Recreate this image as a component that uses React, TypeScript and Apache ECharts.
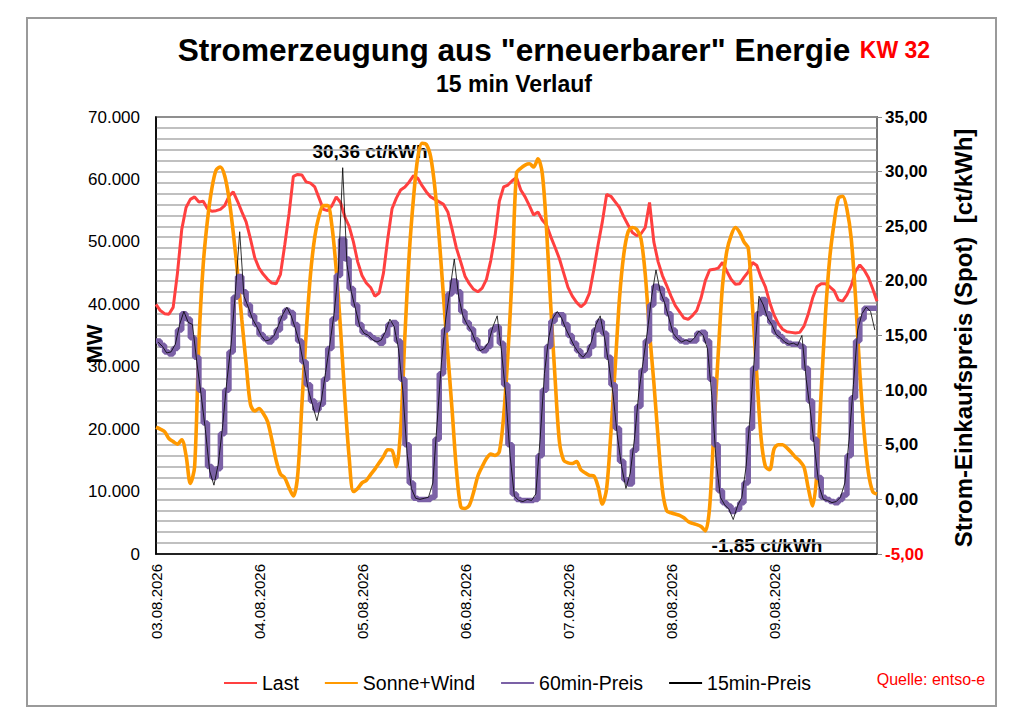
import React, { useEffect, useRef } from "react";
import * as echarts from "echarts";

// one label per day, the x axis runs in hours from 03.08. 00:00
const dayLabels = [
  "03.08.2026", "04.08.2026", "05.08.2026", "06.08.2026",
  "07.08.2026", "08.08.2026", "09.08.2026",
];

// Last in MW, hourly (0..168)
const last = [
  40000, 39000, 38500, 38400, 39500, 45000, 52000, 55500, 56800, 57200, 56400, 56500,
  55300, 54900, 55000, 55200, 55800, 57300, 58000, 56500, 54800, 53200, 50500, 47500,
  45800, 44800, 44000, 43400, 43300, 44800, 49500, 54500, 60500, 60800, 60700, 59600,
  59400, 58800, 57000, 55200, 55000, 55800, 57200, 56300, 54000, 52500, 50000, 46800,
  44600, 43400, 42700, 41300, 41800, 45000, 50500, 55300, 57000, 58300, 58800, 59600,
  60600, 60200, 59000, 58000, 57200, 56800, 56400, 56000, 54800, 52000, 49000, 46800,
  44500, 43300, 42400, 42000, 42600, 44000, 47000, 51000, 56500, 58800, 59100, 59800,
  60300, 58300, 57200, 55800, 54300, 54800, 53500, 52700, 50800, 49100, 47300, 45000,
  42700, 41300, 40300, 39600, 40200, 41800, 45500, 49500, 53200, 57600, 57300, 56400,
  55500, 54000, 52700, 51500, 51000, 51300, 52300, 56300, 50000, 46800, 44600, 43000,
  41300, 39800, 38800, 37800, 37600, 38200, 39000, 41000, 43800, 45500, 45600, 45800,
  46700, 45300, 44000, 43200, 43300, 44300, 45200, 46700, 46200, 44300, 42800, 40300,
  38300, 36900, 36000, 35600, 35500, 35400, 35500, 36500, 38500, 41000, 42800, 43300,
  43300, 42800, 42200, 40700, 40500, 41500, 43000, 45300, 46300, 45500, 44300, 42500,
  40500,
];

// Sonne+Wind in MW, hourly (0..168)
const sonneWind = [
  20300, 20000, 19600, 18500, 18000, 17600, 18300, 15800, 11300, 14000, 34000, 46300,
  53500, 58500, 61500, 62000, 60600, 57000, 51500, 45000, 37500, 30500, 24000, 22900,
  23300, 22500, 21200, 18300, 15000, 12800, 12200, 10600, 9300, 12500, 24000, 35500,
  44800, 50800, 54200, 55800, 55800, 52500, 45500, 36000, 25000, 15500, 10000, 10500,
  11400, 11800, 12700, 13600, 14600, 15600, 16700, 16600, 14000, 20000, 35000, 48000,
  57000, 63500, 65800, 65600, 63600, 58500, 50500, 41100, 32000, 23000, 13500, 7600,
  7300, 7800, 9900, 12500, 14000, 15300, 16000, 15800, 16400, 22000, 32000, 45000,
  61000, 61800, 62300, 62500, 62000, 63300, 61000, 52000, 39500, 28000, 18000, 15000,
  14600, 14500, 14800, 13500, 13000, 12600, 12500, 10800, 8000, 10500, 19500, 30000,
  41000, 48000, 51600, 52300, 52000, 50500, 44800, 35500, 27500, 18500, 10300, 6900,
  6600, 6400, 6200, 5800, 5200, 4900, 4700, 4400, 3700, 7500, 20000, 32000,
  43000, 48500, 51000, 52300, 51500, 50000, 49000, 39500, 28500, 18500, 14000, 13500,
  16800, 17500, 17500, 17000, 16300, 15500, 14900, 13900, 10500, 7700, 13000, 26000,
  38500, 47500, 53000, 57000, 57300, 55200, 50500, 41100, 29000, 19500, 13000, 10000,
  9600,
];

// 60min-Preis in ct/kWh, one value per hour (0..167)
const preis60 = [
  14.5, 14.1, 13.5, 13.3, 13.8, 15.5, 17.0, 16.5, 14.8, 13.0, 10.0, 7.0,
  3.0, 2.0, 2.8, 6.0, 10.0, 13.5, 18.5, 20.4, 19.0, 17.8, 16.8, 16.0,
  15.1, 14.7, 14.4, 14.8, 15.5, 16.6, 17.3, 17.1, 16.0, 14.5, 12.6, 10.5,
  9.0, 8.2, 8.7, 11.0, 13.8, 16.5, 20.5, 23.8, 22.0, 19.3, 17.8, 16.0,
  15.3, 15.1, 14.8, 14.6, 14.3, 15.0, 16.0, 16.2, 14.5, 11.0, 5.0, 1.5,
  0.1, 0.0, 0.0, 0.0, 0.2, 5.5, 11.5, 15.5, 18.8, 20.0, 19.0, 17.2,
  16.2, 15.6, 14.6, 13.8, 13.6, 14.0, 15.5, 15.8, 14.3, 10.5, 5.0, 0.5,
  0.0, -0.1, -0.1, -0.1, 0.0, 4.0, 10.0, 14.0, 16.3, 16.9, 16.9, 16.0,
  15.0, 14.3, 13.6, 13.1, 13.2, 14.0, 15.5, 16.3, 15.2, 13.0, 10.5, 6.5,
  3.5, 1.8, 1.4, 4.5, 8.5, 11.8, 14.5, 17.8, 19.5, 19.3, 18.3, 17.0,
  15.5, 14.8, 14.5, 14.4, 14.5, 14.5, 15.2, 15.3, 14.5, 11.0, 5.0, 0.8,
  -0.3, -0.6, -1.1, -0.9, -0.3, 1.5, 6.5, 12.0, 17.0, 18.3, 17.0, 16.2,
  15.3, 14.9, 14.5, 14.3, 14.2, 14.2, 14.0, 12.0, 9.0, 5.5, 2.0, 0.2,
  0.0, -0.2, -0.3, 0.0, 0.4, 4.0, 9.3, 14.5, 16.5, 17.5, 17.5, 17.5,
];

// 15min-Preis in ct/kWh, read once per hour (middle of the hour)
const preis15 = [
  14.4, 14.0, 13.4, 13.5, 14.2, 16.0, 17.2, 16.2, 16.0, 12.6, 9.6, 6.4,
  2.6, 1.3, 3.2, 6.6, 10.8, 14.2, 19.0, 24.5, 18.6, 17.6, 16.5, 15.8,
  15.0, 14.5, 14.6, 15.0, 15.9, 16.9, 17.6, 16.8, 15.6, 14.2, 12.2, 10.0,
  8.6, 7.2, 9.0, 11.6, 14.2, 17.0, 21.0, 30.36, 21.5, 19.0, 17.4, 15.8,
  15.2, 15.0, 14.6, 14.4, 14.6, 15.4, 16.5, 15.8, 13.8, 10.0, 4.2, 1.0,
  0.1, 0.0, 0.1, 0.2, 1.5, 7.0, 12.5, 16.5, 19.2, 22.0, 18.6, 16.8,
  16.0, 15.4, 14.4, 13.6, 13.8, 14.4, 15.8, 16.8, 13.6, 9.5, 4.0, 0.3,
  -0.1, -0.2, 0.0, -0.1, 0.5, 5.5, 11.5, 14.8, 16.6, 17.2, 16.6, 15.6,
  14.8, 14.0, 13.4, 13.0, 13.5, 14.5, 16.0, 16.8, 14.8, 12.4, 9.6, 5.8,
  3.0, 1.0, 2.4, 5.6, 9.8, 12.6, 15.4, 18.6, 21.0, 19.0, 18.0, 16.6,
  15.2, 14.7, 14.4, 14.6, 14.4, 14.8, 15.4, 15.0, 13.8, 9.5, 3.6, 0.2,
  -0.5, -0.9, -1.85, -0.6, 0.2, 3.0, 8.0, 13.5, 18.6, 17.8, 16.6, 16.0,
  15.1, 14.8, 14.4, 14.2, 14.3, 14.1, 15.0, 11.0, 8.0, 4.5, 1.2, 0.0,
  -0.1, -0.3, -0.2, 0.2, 1.5, 5.5, 10.5, 15.5, 17.0, 17.6, 17.2, 15.5,
];

const FONT = "'Liberation Sans', Arial, sans-serif";

const fmtMW = (v: number) => String(v).replace(/\B(?=(\d{3})+(?!\d))/g, ".");
const fmtCt = (v: number) => v.toFixed(2).replace(".", ",");

const App: React.FC = () => {
  const chartRef = useRef<HTMLDivElement>(null);

  useEffect(() => {
    if (!chartRef.current) return;
    const chart = echarts.init(chartRef.current, null, { renderer: "svg" });

    const option: echarts.EChartsOption = {
      animation: false,
      backgroundColor: "#fff",
      textStyle: { fontFamily: FONT },
      grid: {
        left: 156,
        right: 147,
        top: 117,
        bottom: 170,
        show: true,
        borderColor: "#000",
        borderWidth: 1.5,
      },
      legend: {
        left: 218,
        top: 668,
        itemWidth: 33,
        itemHeight: 14,
        itemGap: 25,
        textStyle: { fontSize: 19.5, color: "#000", fontFamily: FONT },
        itemStyle: { opacity: 0 },
        data: ["Last", "Sonne+Wind", "60min-Preis", "15min-Preis"],
      },
      xAxis: {
        type: "value",
        min: 0,
        max: 168,
        interval: 24,
        axisLine: { show: true, lineStyle: { color: "#000", width: 1.5 } },
        axisTick: { show: false },
        splitLine: { show: false },
        axisLabel: {
          rotate: 90,
          margin: 10,
          fontSize: 15,
          color: "#000",
          fontFamily: FONT,
          formatter: (v: number) => dayLabels[Math.round(v / 24)] ?? "",
        },
      },
      yAxis: [
        {
          type: "value",
          min: 0,
          max: 70000,
          interval: 10000,
          axisLine: { show: true, lineStyle: { color: "#000", width: 1.5 } },
          axisTick: { show: false },
          splitLine: { show: false },
          axisLabel: {
            fontSize: 17,
            color: "#000",
            margin: 16,
            fontFamily: FONT,
            formatter: (v: number) => fmtMW(v),
          },
        },
        {
          type: "value",
          position: "right",
          min: -5,
          max: 35,
          interval: 5,
          axisLine: { show: true, lineStyle: { color: "#888", width: 1.5 } },
          axisTick: { show: true, length: 5, lineStyle: { color: "#888" } },
          minorTick: { show: false, splitNumber: 5 },
          splitLine: { show: true, lineStyle: { color: "#ababab", width: 1.6 } },
          minorSplitLine: { show: true, lineStyle: { color: "#ababab", width: 1.6 } },
          axisLabel: {
            fontSize: 17,
            fontWeight: "bold",
            margin: 8,
            fontFamily: FONT,
            color: ((v: number) => (Number(v) < 0 ? "#ff0000" : "#000")) as any,
            formatter: (v: number) => fmtCt(v),
          },
        },
      ],
      series: [
        {
          name: "Last",
          type: "line",
          symbol: "none",
          data: last.map((v, i) => [i, v]),
          lineStyle: { color: "#ff4040", width: 3 },
          itemStyle: { color: "#ff4040" },
        },
        {
          name: "Sonne+Wind",
          type: "line",
          symbol: "none",
          smooth: 0.3,
          data: sonneWind.map((v, i) => [i, v]),
          lineStyle: { color: "#ff9900", width: 3.6 },
          itemStyle: { color: "#ff9900" },
        },
        {
          name: "60min-Preis",
          type: "line",
          yAxisIndex: 1,
          symbol: "none",
          step: "end",
          data: [...preis60.map((v, i) => [i, v]), [168, preis60[preis60.length - 1]]],
          lineStyle: { color: "#7b61a6", width: 5.5 },
          itemStyle: { color: "#7b61a6" },
        },
        {
          name: "15min-Preis",
          type: "line",
          yAxisIndex: 1,
          symbol: "none",
          data: preis15.map((v, i) => [i + 0.5, v]),
          lineStyle: { color: "#000", width: 0.8 },
          itemStyle: { color: "#000" },
        },
      ],
      graphic: [
        {
          type: "rect",
          shape: { x: 27, y: 18, width: 969, height: 688 },
          style: { fill: "none", stroke: "#9a9a9a", lineWidth: 2 },
          silent: true,
        },
        {
          type: "text",
          x: 514,
          y: 50,
          style: {
            text: 'Stromerzeugung aus "erneuerbarer" Energie',
            font: `bold 31.6px ${FONT}`,
            fill: "#000",
            align: "center",
            verticalAlign: "middle",
          },
        },
        {
          type: "text",
          x: 895,
          y: 50,
          style: {
            text: "KW 32",
            font: `bold 23px ${FONT}`,
            fill: "#ff0000",
            align: "center",
            verticalAlign: "middle",
          },
        },
        {
          type: "text",
          x: 514,
          y: 84,
          style: {
            text: "15 min Verlauf",
            font: `bold 23px ${FONT}`,
            fill: "#000",
            align: "center",
            verticalAlign: "middle",
          },
        },
        {
          type: "text",
          x: 94,
          y: 344,
          rotation: Math.PI / 2,
          style: {
            text: "MW",
            font: `bold 22px ${FONT}`,
            fill: "#000",
            align: "center",
            verticalAlign: "middle",
          },
        },
        {
          type: "text",
          x: 963,
          y: 338,
          rotation: Math.PI / 2,
          style: {
            text: "Strom-Einkaufspreis (Spot)  [ct/kWh]",
            font: `bold 24px ${FONT}`,
            fill: "#000",
            align: "center",
            verticalAlign: "middle",
          },
        },
        {
          type: "text",
          x: 370,
          y: 151,
          style: {
            text: "30,36 ct/kWh",
            font: `bold 19px ${FONT}`,
            fill: "#000",
            align: "center",
            verticalAlign: "middle",
          },
        },
        {
          type: "text",
          x: 767,
          y: 545,
          style: {
            text: "-1,85 ct/kWh",
            font: `bold 19px ${FONT}`,
            fill: "#000",
            align: "center",
            verticalAlign: "middle",
          },
        },
        {
          type: "text",
          x: 931,
          y: 679,
          style: {
            text: "Quelle: entso-e",
            font: `16px ${FONT}`,
            fill: "#ff0000",
            align: "center",
            verticalAlign: "middle",
          },
        },
      ],
    };

    chart.setOption(option);
    return () => chart.dispose();
  }, []);

  return (
    <div
      ref={chartRef}
      style={{ position: "absolute", left: 0, top: 0, width: 1024, height: 724 }}
    />
  );
};

export default App;
